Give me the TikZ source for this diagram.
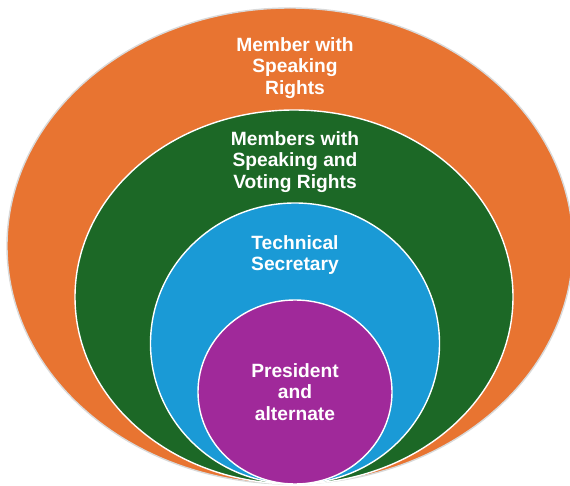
\documentclass[tikz,border=0pt]{standalone}
\usepackage{fontspec}
\setmainfont{Liberation Sans}
\definecolor{orangeC}{RGB}{232,116,49}
\definecolor{greenC}{RGB}{28,104,38}
\definecolor{blueC}{RGB}{26,154,214}
\definecolor{purpleC}{RGB}{160,41,154}
\tikzset{
  ring/.style={draw=white, line width=1.4pt},
  lbl/.style={text=white, align=center, font=\fontsize{19.2}{21.5}\selectfont\bfseries, inner sep=0pt}
}
\begin{document}
\begin{tikzpicture}[x=1pt,y=-1pt]
\useasboundingbox (0,0) rectangle (570,486);
\fill[white] (0,0) rectangle (570,486);
\draw[ring, draw=black!15, fill=orangeC] (290,246) ellipse [x radius=283, y radius=238];
\draw[ring, fill=greenC] (294,297) ellipse [x radius=219, y radius=187];
\draw[ring, fill=blueC] (295,343.5) ellipse [x radius=144.5, y radius=140.5];
\draw[ring, fill=purpleC] (295,392) ellipse [x radius=97, y radius=92];
\node[lbl] (member) at (295,68) {Member with\\Speaking\\Rights};
\node[lbl] (voting) at (295,162) {Members with\\Speaking and\\Voting Rights};
\node[lbl] (tech) at (295,255) {Technical\\Secretary};
\node[lbl] (pres) at (295,392) {President\\and\\alternate};
\end{tikzpicture}
\end{document}
